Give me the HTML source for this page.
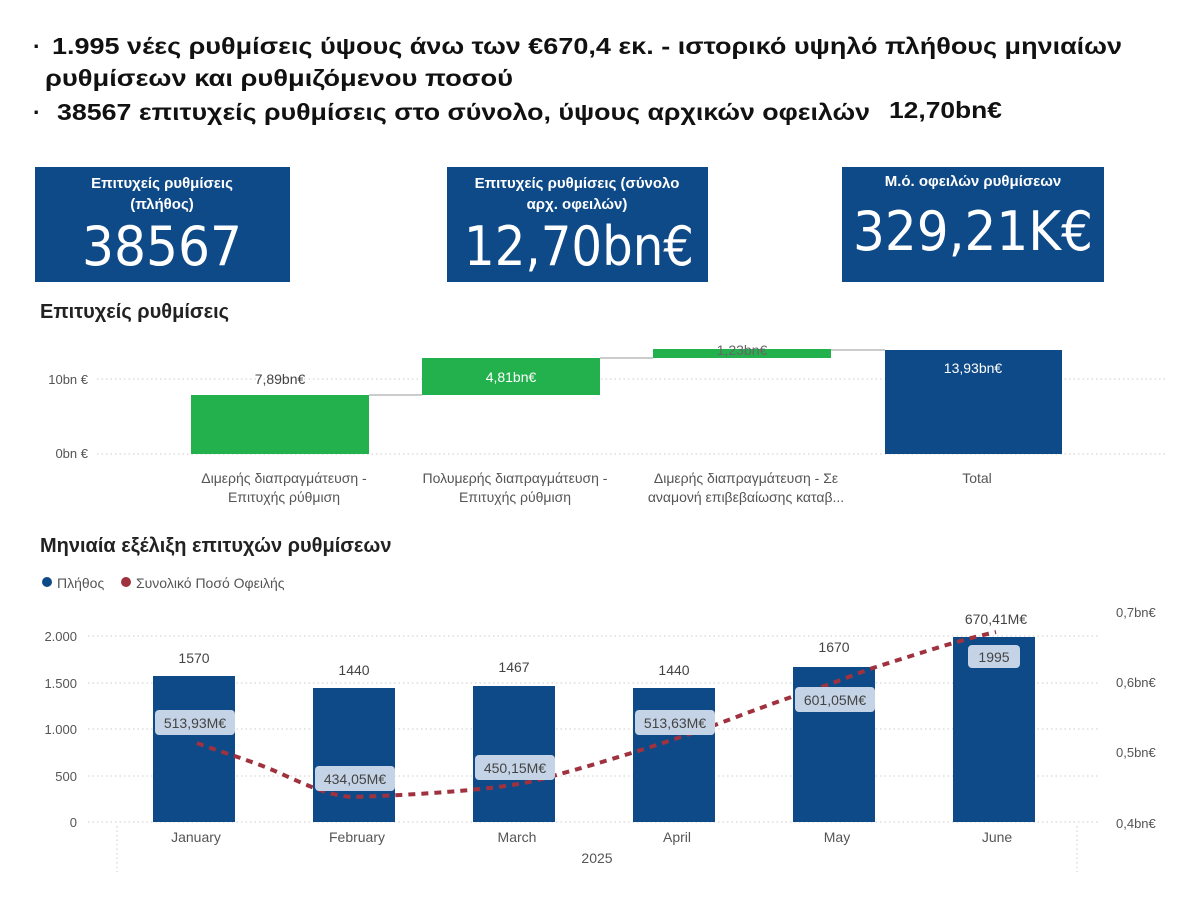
<!DOCTYPE html>
<html><head><meta charset="utf-8"><style>
html,body{margin:0;padding:0;background:#fff;width:1200px;height:907px;overflow:hidden}
svg{display:block}
text{font-family:"Liberation Sans","DejaVu Sans",sans-serif}
.h{font-weight:bold;font-size:23px;fill:#111}
.kt{font-weight:bold;font-size:15px;fill:#fff}
.kn{font-family:"DejaVu Sans Condensed","DejaVu Sans","Liberation Sans",sans-serif;font-size:54px;fill:#fff}
.t{font-size:20px;fill:#222;font-weight:bold}
.ax{font-size:13px;fill:#555}
.lb{font-size:14px;fill:#444}
</style></head><body>
<svg width="1200" height="907" viewBox="0 0 1200 907">
<rect width="1200" height="907" fill="#fff"/>
<!-- header -->
<text x="33" y="54" class="h" font-size="18">·</text>
<text x="52" y="54" class="h" textLength="1070" lengthAdjust="spacingAndGlyphs">1.995 νέες ρυθμίσεις ύψους άνω των €670,4 εκ. - ιστορικό υψηλό πλήθους μηνιαίων</text>
<text x="45" y="86" class="h" textLength="468" lengthAdjust="spacingAndGlyphs">ρυθμίσεων και  ρυθμιζόμενου ποσού</text>
<text x="33" y="120" class="h">·</text>
<text x="57" y="120" class="h" textLength="813" lengthAdjust="spacingAndGlyphs">38567 επιτυχείς ρυθμίσεις στο σύνολο, ύψους αρχικών οφειλών</text>
<text x="889" y="118" class="h" textLength="113" lengthAdjust="spacingAndGlyphs">12,70bn€</text>

<!-- KPI cards -->
<rect x="35" y="167" width="255" height="115" fill="#0f4a88"/>
<text x="162" y="188" class="kt" text-anchor="middle">Επιτυχείς ρυθμίσεις</text>
<text x="162" y="209" class="kt" text-anchor="middle">(πλήθος)</text>
<text x="162" y="265" class="kn" text-anchor="middle" textLength="160" lengthAdjust="spacingAndGlyphs">38567</text>

<rect x="447" y="167" width="261" height="115" fill="#0f4a88"/>
<text x="577" y="188" class="kt" text-anchor="middle">Επιτυχείς ρυθμίσεις (σύνολο</text>
<text x="577" y="209" class="kt" text-anchor="middle">αρχ. οφειλών)</text>
<text x="579" y="265" class="kn" text-anchor="middle" textLength="230" lengthAdjust="spacingAndGlyphs">12,70bn€</text>

<rect x="842" y="167" width="262" height="115" fill="#0f4a88"/>
<text x="973" y="186" class="kt" text-anchor="middle">Μ.ό. οφειλών ρυθμίσεων</text>
<text x="973" y="250" class="kn" text-anchor="middle" textLength="240" lengthAdjust="spacingAndGlyphs">329,21K€</text>

<!-- waterfall -->
<text x="40" y="318" class="t">Επιτυχείς ρυθμίσεις</text>
<g stroke="#ccc" stroke-dasharray="1.5 3" stroke-width="1">
<line x1="97" y1="379" x2="1165" y2="379"/>
<line x1="97" y1="454" x2="1165" y2="454"/>
</g>
<text x="88" y="384" class="ax" text-anchor="end">10bn €</text>
<text x="88" y="458" class="ax" text-anchor="end">0bn €</text>
<g stroke="#999" stroke-width="1">
<line x1="369" y1="395" x2="422" y2="395"/>
<line x1="600" y1="358" x2="653" y2="358"/>
<line x1="831" y1="350" x2="885" y2="350"/>
</g>
<rect x="191" y="395" width="178" height="59" fill="#22b14c"/>
<rect x="422" y="358" width="178" height="37" fill="#22b14c"/>
<rect x="653" y="349" width="178" height="9" fill="#22b14c"/>
<rect x="885" y="350" width="177" height="104" fill="#0f4a88"/>
<text x="280" y="384" class="lb" text-anchor="middle">7,89bn€</text>
<text x="511" y="382" class="lb" text-anchor="middle" fill="#fff" style="fill:#fff">4,81bn€</text>
<text x="742" y="355" class="lb" text-anchor="middle" style="fill:#666">1,23bn€</text>
<text x="973" y="373" class="lb" text-anchor="middle" style="fill:#fff">13,93bn€</text>
<g class="lb" text-anchor="middle" style="fill:#555">
<text x="284" y="483">Διμερής διαπραγμάτευση -</text>
<text x="284" y="502">Επιτυχής ρύθμιση</text>
<text x="515" y="483">Πολυμερής διαπραγμάτευση -</text>
<text x="515" y="502">Επιτυχής ρύθμιση</text>
<text x="746" y="483">Διμερής διαπραγμάτευση - Σε</text>
<text x="746" y="502">αναμονή επιβεβαίωσης καταβ...</text>
<text x="977" y="483">Total</text>
</g>

<!-- monthly -->
<text x="40" y="552" class="t">Μηνιαία εξέλιξη επιτυχών ρυθμίσεων</text>
<circle cx="47" cy="582" r="5" fill="#0f4a88"/>
<text x="57" y="588" class="lb" style="fill:#555">Πλήθος</text>
<circle cx="126" cy="582" r="5" fill="#a0323f"/>
<text x="136" y="588" class="lb" style="fill:#555">Συνολικό Ποσό Οφειλής</text>
<g stroke="#ccc" stroke-dasharray="1.5 3" stroke-width="1">
<line x1="88" y1="636" x2="1100" y2="636"/>
<line x1="88" y1="683" x2="1100" y2="683"/>
<line x1="88" y1="729" x2="1100" y2="729"/>
<line x1="88" y1="776" x2="1100" y2="776"/>
<line x1="88" y1="822" x2="1100" y2="822"/>
<line x1="117" y1="826" x2="117" y2="872"/>
<line x1="1077" y1="826" x2="1077" y2="872"/>
</g>
<g class="ax" text-anchor="end">
<text x="77" y="641">2.000</text><text x="77" y="688">1.500</text><text x="77" y="734">1.000</text>
<text x="77" y="781">500</text><text x="77" y="827">0</text>
</g>
<g class="ax">
<text x="1116" y="617">0,7bn€</text><text x="1116" y="687">0,6bn€</text>
<text x="1116" y="757">0,5bn€</text><text x="1116" y="828">0,4bn€</text>
</g>
<g fill="#0f4a88">
<rect x="153" y="676" width="82" height="146"/>
<rect x="313" y="688" width="82" height="134"/>
<rect x="473" y="686" width="82" height="136"/>
<rect x="633" y="688" width="82" height="134"/>
<rect x="793" y="667" width="82" height="155"/>
<rect x="953" y="637" width="82" height="185"/>
</g>
<g class="lb" text-anchor="middle" style="fill:#444">
<text x="194" y="663">1570</text><text x="354" y="675">1440</text><text x="514" y="672">1467</text>
<text x="674" y="675">1440</text><text x="834" y="652">1670</text><text x="996" y="624">670,41M€</text>
</g>
<path d="M197,743 C215,750 233,755 260,765 C290,776 320,795 352,797 C390,796 440,793 480,789 C520,785 540,780 560,774 C600,763 660,745 715,725 C760,708 790,697 807,692 C840,681 860,672 876,667 C930,650 960,640 996,632" fill="none" stroke="#a0323f" stroke-width="4" stroke-dasharray="7 6"/>
<g fill="#c5d3e6">
<rect x="155" y="710" width="80" height="25" rx="4"/>
<rect x="315" y="766" width="80" height="25" rx="4"/>
<rect x="475" y="755" width="80" height="25" rx="4"/>
<rect x="635" y="710" width="80" height="25" rx="4"/>
<rect x="795" y="687" width="80" height="25" rx="4"/>
<rect x="968" y="645" width="52" height="23" rx="4"/>
</g>
<g class="lb" text-anchor="middle" style="fill:#444">
<text x="195" y="728">513,93M€</text><text x="355" y="784">434,05M€</text><text x="515" y="773">450,15M€</text>
<text x="675" y="728">513,63M€</text><text x="835" y="705">601,05M€</text><text x="994" y="662">1995</text>
</g>
<g class="lb" text-anchor="middle" style="fill:#555">
<text x="196" y="842">January</text><text x="357" y="842">February</text><text x="517" y="842">March</text>
<text x="677" y="842">April</text><text x="837" y="842">May</text><text x="997" y="842">June</text>
<text x="597" y="863">2025</text>
</g>
</svg>
</body></html>
